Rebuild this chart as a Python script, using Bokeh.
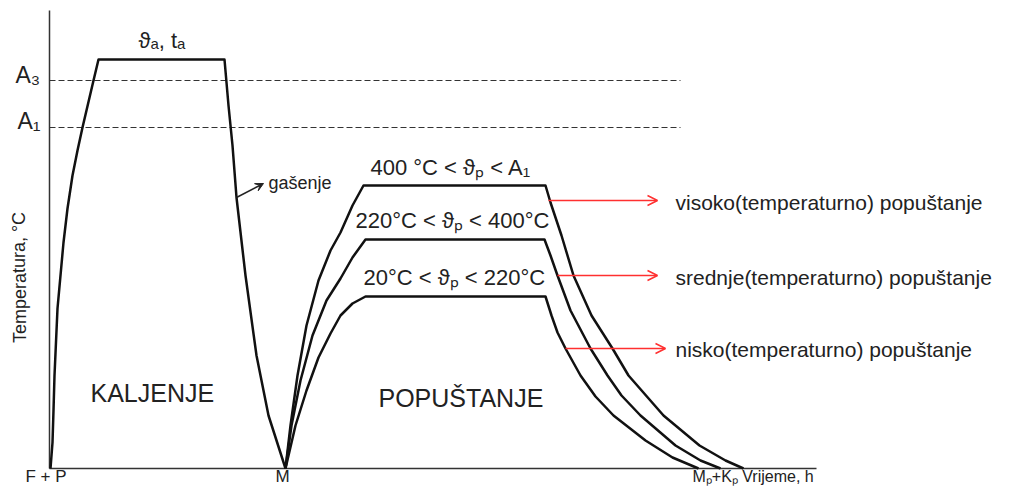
from bokeh.plotting import figure
from bokeh.models import Range1d, ColumnDataSource, Arrow, OpenHead, VeeHead
from bokeh.embed import file_html
from bokeh.resources import INLINE
from bokeh.core.properties import value

# ---- data (schematic units: t = time, T = temperature) ----
# kaljenje: heating, austenitizing hold, quench to M
t_kalj = [1, 2, 3, 4, 5, 8, 14, 18, 23, 28, 33, 44, 49, 175, 179, 183, 187, 196, 207, 219, 236]
T_kalj = [0, 13, 26, 58, 93, 160, 226, 260, 293, 318, 341, 388, 409, 409, 363, 323, 271, 193, 113, 53, 0]

# popuštanje curves (visoko, srednje, nisko)
t_visoko = [236, 241, 248, 257, 269, 281, 291, 303, 314,
            496, 501, 512, 524, 542, 563, 579, 614, 650, 676, 694]
T_visoko = [0, 43, 93, 143, 188, 218, 236, 263, 283,
            283, 266, 233, 193, 153, 120, 93, 53, 23, 8, 0]

t_srednje = [236, 242, 251, 263, 277, 291, 303, 316,
             495, 501, 508, 521, 541, 558, 572, 591, 626, 651, 671]
T_srednje = [0, 43, 88, 133, 168, 190, 211, 229,
             229, 213, 193, 158, 120, 93, 73, 53, 23, 8, 0]

t_nisko = [236, 246, 257, 269, 281, 291, 303, 316,
           496, 502, 508, 516, 531, 546, 564, 596, 623, 649]
T_nisko = [0, 43, 78, 111, 135, 153, 165, 172,
           172, 153, 136, 120, 93, 72, 53, 28, 11, 0]

# critical temperatures (dashed)
A3 = 388
A1 = 341
dash_t_end = 631

# axes extents
t_axis_end = 767
T_axis_end = 458

# red arrows to the tempering names
arr_t0 = [499, 508, 516]
arr_t1 = [608, 608, 616]
arr_T = [268, 193, 120]

# gasenje arrow
gas_t = [187, 214]
gas_T = [271, 285]

# labels: text, t, T (baseline), size(px)
lbl_text = ["ϑₐ, tₐ", "A₃", "A₁", "gašenje", "KALJENJE", "POPUŠTANJE",
            "400 °C < ϑₚ < A₁", "220°C < ϑₚ < 400°C", "20°C < ϑₚ < 220°C",
            "visoko(temperaturno) popuštanje", "srednje(temperaturno) popuštanje",
            "nisko(temperaturno) popuštanje", "F + P", "M", "Mₚ+Kₚ Vrijeme, h"]
lbl_t = [89, -34, -32, 219, 41, 329, 321, 306, 314, 626, 626, 626, -24, 226, 643]
lbl_T = [428, 394, 348, 286, 76, 71, 301, 248, 191, 266, 191, 119, -8, -8, -8]
lbl_size = [22, 23, 23, 18, 25, 25, 22, 22, 22, 21, 21, 21, 17, 17, 16]

y_label = "Temperatura, °C"
y_label_t = -30
y_label_T = 191

FONT = value("Liberation Sans")
INK = "#222222"

p = figure(width=993, height=487, output_backend="svg", toolbar_location=None,
           x_range=Range1d(-49, 944), y_range=Range1d(-19, 468),
           min_border=0, outline_line_color=None, background_fill_color="white")
p.xaxis.visible = False
p.yaxis.visible = False
p.xgrid.visible = False
p.ygrid.visible = False

# axes lines
p.line([0, 0], [0, T_axis_end], line_color="#333333", line_width=1.5)
p.line([0, t_axis_end], [0, 0], line_color="#333333", line_width=1.5)

# dashed critical lines
for lvl in (A3, A1):
    p.line([0, dash_t_end], [lvl, lvl], line_color="#333333", line_width=1.2, line_dash="6 3")

# curves
for tt, TT in ((t_kalj, T_kalj), (t_visoko, T_visoko), (t_srednje, T_srednje), (t_nisko, T_nisko)):
    p.line(tt, TT, line_color="#111111", line_width=2.5, line_join="round")

# red arrows
src_arr = ColumnDataSource(dict(x0=arr_t0, x1=arr_t1, y=arr_T))
p.add_layout(Arrow(end=OpenHead(size=10, line_color="#ff3030", line_width=1.5),
                   x_start="x0", y_start="y", x_end="x1", y_end="y", source=src_arr,
                   line_color="#ff3030", line_width=1.5))

# gasenje arrow
p.add_layout(Arrow(end=VeeHead(size=8, fill_color="#222222", line_color="#222222"),
                   x_start=gas_t[0], y_start=gas_T[0], x_end=gas_t[1], y_end=gas_T[1],
                   line_color="#222222", line_width=1.5))

# labels
for txt, tx, ty, sz in zip(lbl_text, lbl_t, lbl_T, lbl_size):
    p.text(x=[tx], y=[ty], text=[txt], text_font=FONT, text_font_size=f"{sz}px",
           text_color=INK, text_align="left", text_baseline="alphabetic")

p.text(x=[y_label_t], y=[y_label_T], text=[y_label], text_font=FONT, text_font_size="18px",
       text_color=INK, text_align="center", text_baseline="middle", angle=1.5708)

open("out.html", "w").write(file_html(p, INLINE))
